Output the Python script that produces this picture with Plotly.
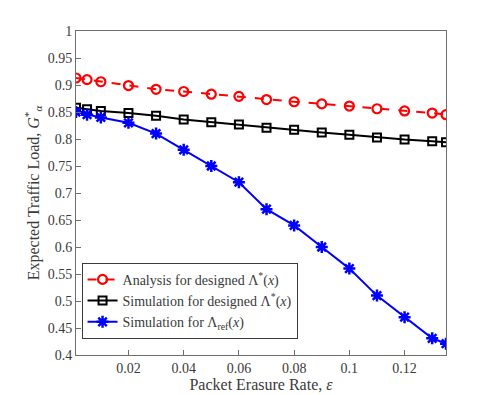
import plotly.graph_objects as go

eps = [0.001, 0.005, 0.01, 0.02, 0.03, 0.04, 0.05, 0.06, 0.07, 0.08, 0.09, 0.10, 0.11, 0.12, 0.13, 0.135]
analysis_designed = [0.913, 0.910, 0.906, 0.899, 0.892, 0.888, 0.883, 0.879, 0.873, 0.869, 0.865, 0.861, 0.856, 0.852, 0.848, 0.845]
sim_designed = [0.858, 0.855, 0.852, 0.848, 0.843, 0.836, 0.831, 0.827, 0.821, 0.817, 0.812, 0.808, 0.803, 0.799, 0.796, 0.794]
sim_ref = [0.850, 0.845, 0.840, 0.830, 0.810, 0.780, 0.750, 0.720, 0.670, 0.640, 0.600, 0.560, 0.510, 0.470, 0.431, 0.421]

font = "Liberation Serif, DejaVu Serif, serif"

fig = go.Figure()
fig.add_trace(go.Scatter(
    x=eps, y=analysis_designed, mode="lines+markers",
    name="Analysis for designed Λ<sup>*</sup>(<i>x</i>)",
    line=dict(color="red", width=2, dash="dash"),
    marker=dict(symbol="circle-open", size=9, color="red", line=dict(width=2.2)),
))
fig.add_trace(go.Scatter(
    x=eps, y=sim_designed, mode="lines+markers",
    name="Simulation for designed Λ<sup>*</sup>(<i>x</i>)",
    line=dict(color="black", width=2),
    marker=dict(symbol="square-open", size=8, color="black", line=dict(width=2)),
))
fig.add_trace(go.Scatter(
    x=eps, y=sim_ref, mode="lines+markers",
    name="Simulation for Λ<sub>ref</sub>(<i>x</i>)",
    line=dict(color="blue", width=2),
    marker=dict(symbol="asterisk-open", size=10, color="blue", line=dict(width=2.5, color="blue")),
))

axis_common = dict(
    showline=True, linecolor="#6e6e6e", linewidth=1, mirror=True,
    ticks="inside", ticklen=5, tickcolor="#6e6e6e",
    showgrid=False, zeroline=False, automargin=False,
    tickfont=dict(family=font, size=14, color="#3a3a3a"),
)

# page body adds an 8px offset, so the figure is 8px smaller
fig.update_layout(
    width=470, height=387,
    margin=dict(l=68, r=32, t=23, b=40),
    paper_bgcolor="white", plot_bgcolor="white",
    font=dict(family=font, color="#3a3a3a"),
    xaxis=dict(range=[0.001, 0.135], tickvals=[0.02, 0.04, 0.06, 0.08, 0.1, 0.12],
               ticktext=["0.02", "0.04", "0.06", "0.08", "0.1", "0.12"],
               title=dict(text="Packet Erasure Rate, <i>ε</i>", font=dict(family=font, size=16), standoff=4),
               **axis_common),
    yaxis=dict(range=[0.4, 1.0], dtick=0.05, tick0=0.4,
               title=dict(text="Expected Traffic Load, <i>G</i><sup>*</sup><sub><i>α</i></sub>",
                          font=dict(family=font, size=16), standoff=4),
               **axis_common),
    legend=dict(x=0.015, y=0.05, xanchor="left", yanchor="bottom",
                bgcolor="white", bordercolor="#3a3a3a", borderwidth=1,
                font=dict(family=font, size=14, color="#3a3a3a"),
                tracegroupgap=0, itemwidth=30),
    showlegend=True,
)

fig.write_html("out.html")
